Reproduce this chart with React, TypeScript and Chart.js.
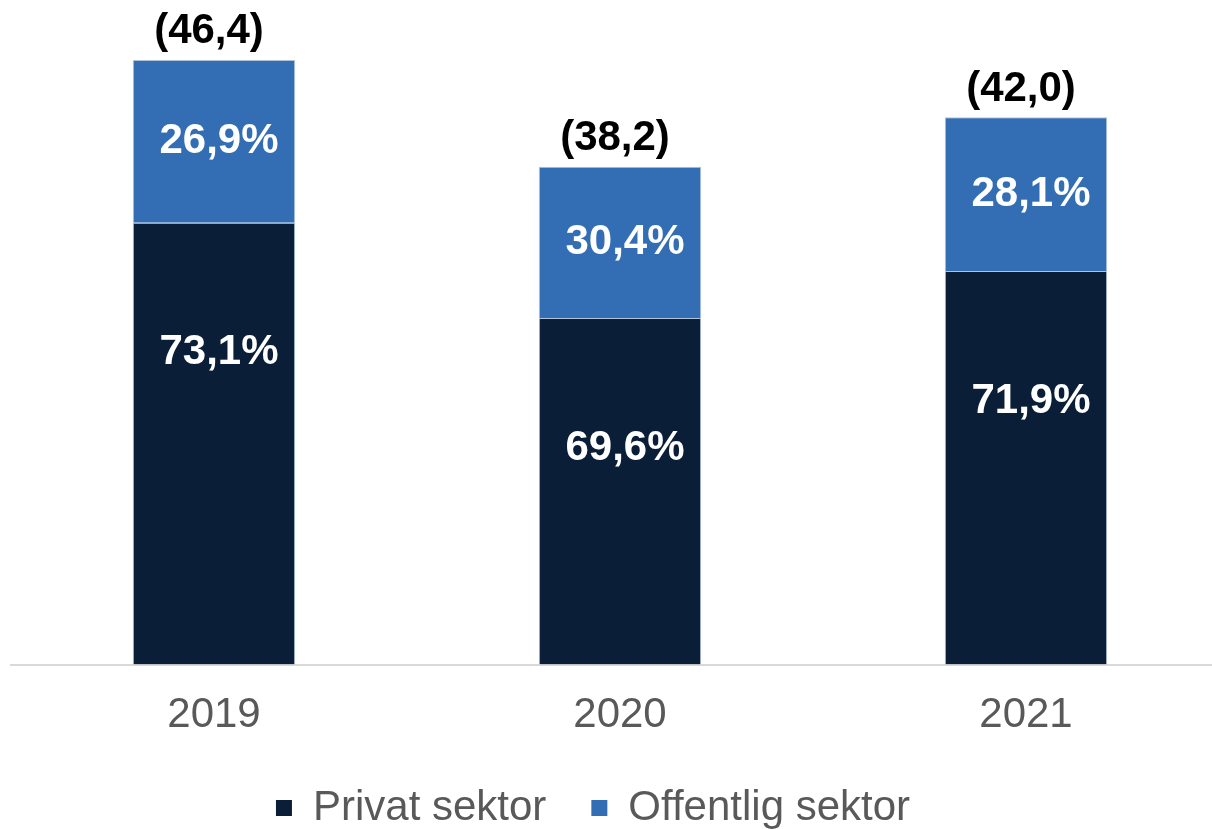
import { useEffect, useRef } from 'react';
import { Chart, registerables } from 'chart.js';

Chart.register(...registerables);

const years = ['2019', '2020', '2021'];
const seriesNames = ['Privat sektor', 'Offentlig sektor'];
const privateValues = [33.9, 26.6, 30.2];
const publicValues = [12.5, 11.6, 11.8];
const totals = [46.4, 38.2, 42.0];
const privateShares = [73.1, 69.6, 71.9];
const publicShares = [26.9, 30.4, 28.1];

const FONT = "'Liberation Sans', Arial, sans-serif";
const NAVY = '#0a1f37';
const BLUE = '#336db3';
const EDGE = 'rgba(150,175,205,0.75)';

const fmt = (v: number) => v.toFixed(1).replace('.', ',');

const labelPlugin = {
  id: 'barLabels',
  afterDatasetsDraw(chart: any) {
    const ctx = chart.ctx;
    const m0 = chart.getDatasetMeta(0);
    const m1 = chart.getDatasetMeta(1);
    ctx.save();
    ctx.textAlign = 'center';
    ctx.textBaseline = 'middle';
    ctx.font = `bold 42px ${FONT}`;
    ctx.fillStyle = '#ffffff';
    m0.data.forEach((bar: any, i: number) => {
      const p = bar.getProps(['x', 'y', 'base'], true);
      ctx.fillText(fmt(privateShares[i]) + '%', p.x + 5, p.y + 130);
    });
    m1.data.forEach((bar: any, i: number) => {
      const p = bar.getProps(['x', 'y', 'base'], true);
      ctx.fillText(fmt(publicShares[i]) + '%', p.x + 5, (p.y + p.base) / 2);
    });
    ctx.fillStyle = '#000000';
    m1.data.forEach((bar: any, i: number) => {
      const p = bar.getProps(['x', 'y', 'base'], true);
      ctx.fillText('(' + fmt(totals[i]) + ')', p.x - 5, p.y - 28);
    });
    ctx.restore();
  },
};

const legendShift = {
  id: 'legendShift',
  afterLayout(chart: any) {
    const l = chart.legend;
    if (l) {
      l.left -= 27;
      l.right -= 27;
      l.top -= 25;
      l.bottom -= 25;
    }
  },
};

export default function App() {
  const ref = useRef<HTMLCanvasElement | null>(null);

  useEffect(() => {
    document.body.style.margin = '0';
    document.body.style.overflow = 'hidden';
    if (!ref.current) return;
    const chart = new Chart(ref.current, {
      type: 'bar',
      data: {
        labels: years,
        datasets: [
          {
            label: seriesNames[0],
            data: privateValues,
            backgroundColor: NAVY,
            borderColor: EDGE,
            borderWidth: 1,
            categoryPercentage: 1,
            barPercentage: 0.4,
          },
          {
            label: seriesNames[1],
            data: publicValues,
            backgroundColor: BLUE,
            borderColor: EDGE,
            borderWidth: 1,
            categoryPercentage: 1,
            barPercentage: 0.4,
          },
        ],
      },
      options: {
        responsive: false,
        animation: false,
        layout: { padding: { left: 11, right: 11, top: 13, bottom: 0 } },
        scales: {
          x: {
            stacked: true,
            grid: { display: false, drawTicks: false },
            border: { display: true, color: '#d9d9d9', width: 2 },
            ticks: { font: { family: FONT, size: 42 }, color: '#595959', padding: 26 },
          },
          y: { stacked: true, display: false, min: 0, max: 50 },
        },
        plugins: {
          legend: {
            position: 'bottom',
            labels: {
              font: { family: FONT, size: 42 },
              color: '#595959',
              boxWidth: 16,
              boxHeight: 16,
              padding: 45,
              generateLabels: (chart: any) =>
                chart.data.datasets.map((ds: any, i: number) => ({
                  text: ds.label,
                  fillStyle: ds.backgroundColor,
                  strokeStyle: ds.backgroundColor,
                  lineWidth: 0,
                  fontColor: '#595959',
                  hidden: false,
                  datasetIndex: i,
                })),
            },
          },
          tooltip: { enabled: false },
        },
      },
      plugins: [labelPlugin, legendShift],
    } as any);
    return () => chart.destroy();
  }, []);

  return <canvas ref={ref} width={1240} height={864} style={{ display: 'block' }} />;
}
